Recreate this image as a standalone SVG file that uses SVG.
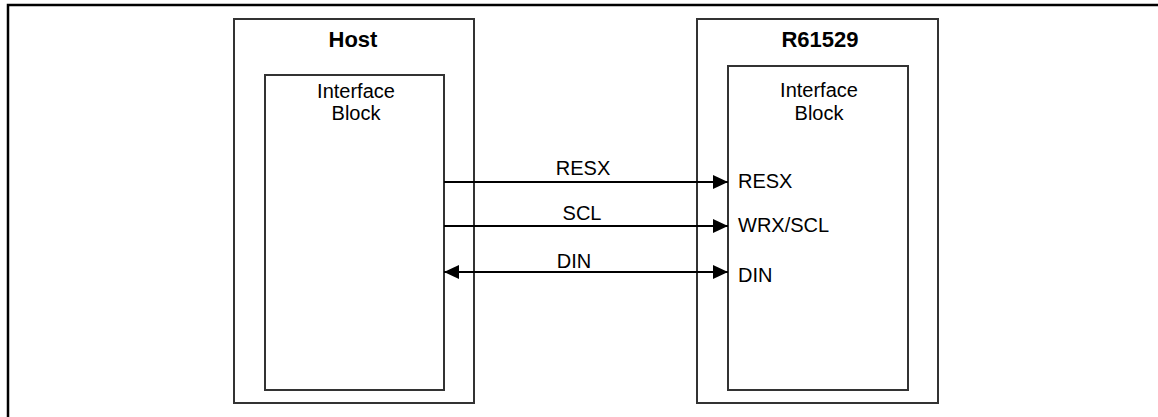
<svg xmlns="http://www.w3.org/2000/svg" width="1158" height="417" viewBox="0 0 1158 417">
<style>
.frame{fill:none;stroke:#000;stroke-width:2.5}
.box{fill:none;stroke:#333;stroke-width:2}
.title{font-family:"Liberation Sans",Arial,sans-serif;font-weight:bold;font-size:22px;fill:#000;text-anchor:middle}
.lbl{font-family:"Liberation Sans",Arial,sans-serif;font-size:20px;fill:#000}
.mid{text-anchor:middle}
.wire{stroke:#000;stroke-width:2;fill:none}
</style>
<defs>
<marker id="ah" viewBox="0 0 15 14" refX="15" refY="7" markerWidth="15" markerHeight="14" markerUnits="userSpaceOnUse" orient="auto-start-reverse">
<path d="M0,0 L15,7 L0,14 Z" fill="#000"/>
</marker>
</defs>
<rect x="0" y="0" width="1158" height="417" fill="#fff"/>
<path class="frame" d="M8,420 L8,5 L1160,5"/>
<g id="host">
<rect class="box" x="234" y="19" width="240" height="384"/>
<text class="title" x="353" y="47">Host</text>
<rect class="box" x="265" y="75" width="179" height="315"/>
<text class="lbl mid" x="356" y="98">Interface</text>
<text class="lbl mid" x="356" y="120">Block</text>
</g>
<g id="r61529">
<rect class="box" x="697" y="19" width="241" height="384"/>
<text class="title" x="820" y="47">R61529</text>
<rect class="box" x="728" y="66" width="180" height="324"/>
<text class="lbl mid" x="819" y="97">Interface</text>
<text class="lbl mid" x="819" y="120">Block</text>
<text class="lbl" x="738" y="188">RESX</text>
<text class="lbl" x="738" y="232">WRX/SCL</text>
<text class="lbl" x="738" y="282">DIN</text>
</g>
<g id="connectors">
<line class="wire" x1="444" y1="182" x2="728" y2="182" marker-end="url(#ah)"/>
<line class="wire" x1="444" y1="226" x2="728" y2="226" marker-end="url(#ah)"/>
<line class="wire" x1="444" y1="272" x2="728" y2="272" marker-start="url(#ah)" marker-end="url(#ah)"/>
<text class="lbl mid" x="583" y="175">RESX</text>
<text class="lbl mid" x="582" y="220">SCL</text>
<text class="lbl mid" x="574" y="268">DIN</text>
</g>
</svg>
